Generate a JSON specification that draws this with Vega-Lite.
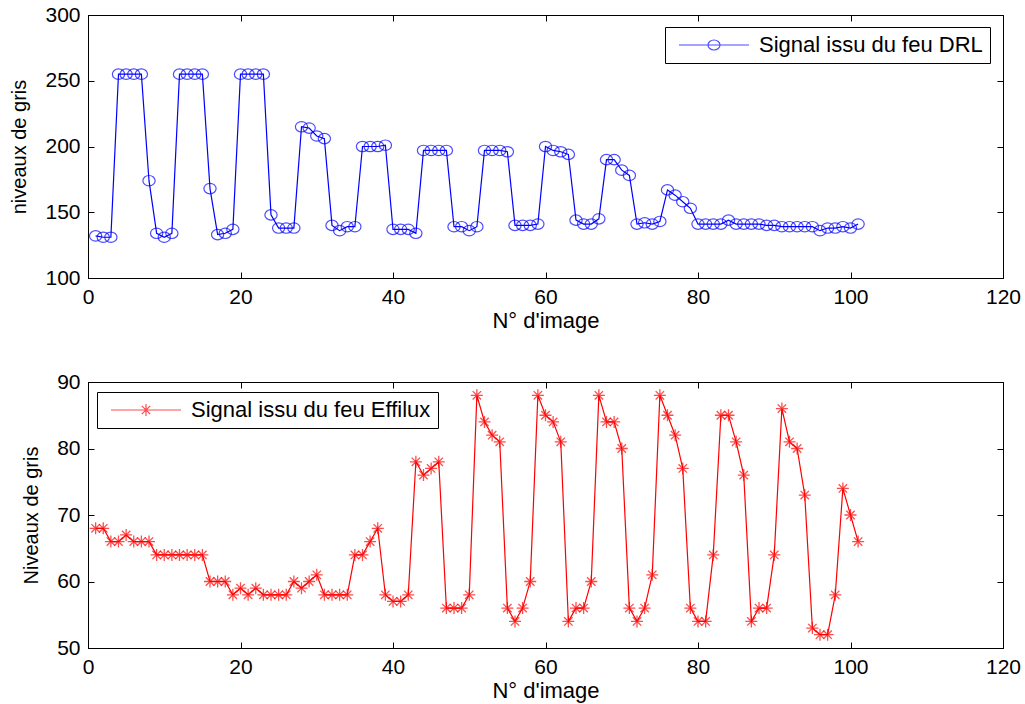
{
  "$schema": "https://vega.github.io/schema/vega-lite/v6.json",
  "background": "white",
  "padding": {"left": 9, "top": 3, "right": 4, "bottom": 2},
  "spacing": 38,
  "config": {
    "font": "Liberation Sans",
    "view": {"stroke": "#000", "strokeWidth": 1},
    "axis": {
      "grid": false,
      "domainColor": "#000",
      "tickColor": "#000",
      "labelColor": "#000",
      "titleColor": "#000",
      "labelFontSize": 21,
      "titleFontSize": 21,
      "titleFontWeight": "normal",
      "tickSize": -6,
      "labelPadding": 14,
      "labelFlush": false
    },
    "legend": {
      "strokeColor": "#000",
      "fillColor": "#fff",
      "padding": 7,
      "labelFontSize": 22,
      "labelColor": "#000",
      "labelLimit": 0,
      "symbolSize": 400,
      "labelOffset": 65,
      "cornerRadius": 0,
      "orient": "none",
      "symbolFillColor": "transparent",
      "symbolStrokeWidth": 1.2
    }
  },
  "datasets": {
    "drl": [
      {"n":1,"v":132},{"n":2,"v":131},{"n":3,"v":131},{"n":4,"v":255},{"n":5,"v":255},{"n":6,"v":255},{"n":7,"v":255},{"n":8,"v":174},{"n":9,"v":134},{"n":10,"v":131},
      {"n":11,"v":134},{"n":12,"v":255},{"n":13,"v":255},{"n":14,"v":255},{"n":15,"v":255},{"n":16,"v":168},{"n":17,"v":133},{"n":18,"v":134},{"n":19,"v":137},{"n":20,"v":255},
      {"n":21,"v":255},{"n":22,"v":255},{"n":23,"v":255},{"n":24,"v":148},{"n":25,"v":138},{"n":26,"v":138},{"n":27,"v":138},{"n":28,"v":215},{"n":29,"v":214},{"n":30,"v":208},
      {"n":31,"v":206},{"n":32,"v":140},{"n":33,"v":136},{"n":34,"v":139},{"n":35,"v":139},{"n":36,"v":200},{"n":37,"v":200},{"n":38,"v":200},{"n":39,"v":201},{"n":40,"v":137},
      {"n":41,"v":137},{"n":42,"v":137},{"n":43,"v":134},{"n":44,"v":197},{"n":45,"v":197},{"n":46,"v":197},{"n":47,"v":197},{"n":48,"v":139},{"n":49,"v":139},{"n":50,"v":136},
      {"n":51,"v":139},{"n":52,"v":197},{"n":53,"v":197},{"n":54,"v":197},{"n":55,"v":196},{"n":56,"v":140},{"n":57,"v":140},{"n":58,"v":140},{"n":59,"v":141},{"n":60,"v":200},
      {"n":61,"v":197},{"n":62,"v":196},{"n":63,"v":194},{"n":64,"v":144},{"n":65,"v":141},{"n":66,"v":141},{"n":67,"v":145},{"n":68,"v":190},{"n":69,"v":190},{"n":70,"v":182},
      {"n":71,"v":178},{"n":72,"v":141},{"n":73,"v":142},{"n":74,"v":141},{"n":75,"v":143},{"n":76,"v":167},{"n":77,"v":163},{"n":78,"v":158},{"n":79,"v":153},{"n":80,"v":141},
      {"n":81,"v":141},{"n":82,"v":141},{"n":83,"v":141},{"n":84,"v":144},{"n":85,"v":141},{"n":86,"v":141},{"n":87,"v":141},{"n":88,"v":141},{"n":89,"v":140},{"n":90,"v":140},
      {"n":91,"v":139},{"n":92,"v":139},{"n":93,"v":139},{"n":94,"v":139},{"n":95,"v":139},{"n":96,"v":136},{"n":97,"v":138},{"n":98,"v":138},{"n":99,"v":139},{"n":100,"v":138},
      {"n":101,"v":141}
    ],
    "eff": [
      {"n":1,"v":68},{"n":2,"v":68},{"n":3,"v":66},{"n":4,"v":66},{"n":5,"v":67},{"n":6,"v":66},{"n":7,"v":66},{"n":8,"v":66},{"n":9,"v":64},{"n":10,"v":64},
      {"n":11,"v":64},{"n":12,"v":64},{"n":13,"v":64},{"n":14,"v":64},{"n":15,"v":64},{"n":16,"v":60},{"n":17,"v":60},{"n":18,"v":60},{"n":19,"v":58},{"n":20,"v":59},
      {"n":21,"v":58},{"n":22,"v":59},{"n":23,"v":58},{"n":24,"v":58},{"n":25,"v":58},{"n":26,"v":58},{"n":27,"v":60},{"n":28,"v":59},{"n":29,"v":60},{"n":30,"v":61},
      {"n":31,"v":58},{"n":32,"v":58},{"n":33,"v":58},{"n":34,"v":58},{"n":35,"v":64},{"n":36,"v":64},{"n":37,"v":66},{"n":38,"v":68},{"n":39,"v":58},{"n":40,"v":57},
      {"n":41,"v":57},{"n":42,"v":58},{"n":43,"v":78},{"n":44,"v":76},{"n":45,"v":77},{"n":46,"v":78},{"n":47,"v":56},{"n":48,"v":56},{"n":49,"v":56},{"n":50,"v":58},
      {"n":51,"v":88},{"n":52,"v":84},{"n":53,"v":82},{"n":54,"v":81},{"n":55,"v":56},{"n":56,"v":54},{"n":57,"v":56},{"n":58,"v":60},{"n":59,"v":88},{"n":60,"v":85},
      {"n":61,"v":84},{"n":62,"v":81},{"n":63,"v":54},{"n":64,"v":56},{"n":65,"v":56},{"n":66,"v":60},{"n":67,"v":88},{"n":68,"v":84},{"n":69,"v":84},{"n":70,"v":80},
      {"n":71,"v":56},{"n":72,"v":54},{"n":73,"v":56},{"n":74,"v":61},{"n":75,"v":88},{"n":76,"v":85},{"n":77,"v":82},{"n":78,"v":77},{"n":79,"v":56},{"n":80,"v":54},
      {"n":81,"v":54},{"n":82,"v":64},{"n":83,"v":85},{"n":84,"v":85},{"n":85,"v":81},{"n":86,"v":76},{"n":87,"v":54},{"n":88,"v":56},{"n":89,"v":56},{"n":90,"v":64},
      {"n":91,"v":86},{"n":92,"v":81},{"n":93,"v":80},{"n":94,"v":73},{"n":95,"v":53},{"n":96,"v":52},{"n":97,"v":52},{"n":98,"v":58},{"n":99,"v":74},{"n":100,"v":70},
      {"n":101,"v":66}
    ]
  },
  "vconcat": [
    {
      "width": 915,
      "height": 263,
      "data": {"name": "drl"},
      "layer": [
        {
          "mark": {"type": "line", "strokeWidth": 1.2},
          "encoding": {
            "x": {"field": "n", "type": "quantitative", "scale": {"domain": [0, 120], "nice": false},
                  "axis": {"orient": "bottom", "values": [0, 20, 40, 60, 80, 100, 120], "title": "N° d'image", "titlePadding": 3, "titleFontSize": 22}},
            "y": {"field": "v", "type": "quantitative", "scale": {"domain": [100, 300], "nice": false, "zero": false},
                  "axis": {"orient": "left", "values": [100, 150, 200, 250, 300], "title": "niveaux de gris", "titlePadding": 15, "titleFontSize": 20}},
            "color": {"datum": "Signal issu du feu DRL", "scale": {"domain": ["Signal issu du feu DRL"], "range": ["#0000ff"]},
                      "legend": {"title": null, "legendX": 577, "legendY": 12, "symbolStrokeColor": "#0000ff",
                                 "symbolType": "M-0.4,0H6.6M2.5,0A0.6,0.5 0 1,0 3.7,0A0.6,0.5 0 1,0 2.5,0"}}
          }
        },
        {
          "mark": {"type": "point", "shape": "M-1,0A1,0.85 0 1,0 1,0A1,0.85 0 1,0 -1,0Z", "size": 150, "filled": false, "strokeWidth": 1.2},
          "encoding": {
            "x": {"field": "n", "type": "quantitative", "scale": {"domain": [0, 120], "nice": false},
                  "axis": {"orient": "top", "values": [0, 20, 40, 60, 80, 100, 120], "labels": false, "title": null, "domain": false}},
            "y": {"field": "v", "type": "quantitative", "scale": {"domain": [100, 300], "nice": false, "zero": false},
                  "axis": {"orient": "right", "values": [100, 150, 200, 250, 300], "labels": false, "title": null, "domain": false}},
            "color": {"datum": "Signal issu du feu DRL"}
          }
        }
      ],
      "resolve": {"axis": {"x": "independent", "y": "independent"}}
    },
    {
      "width": 915,
      "height": 266,
      "data": {"name": "eff"},
      "layer": [
        {
          "mark": {"type": "line", "strokeWidth": 1.2},
          "encoding": {
            "x": {"field": "n", "type": "quantitative", "scale": {"domain": [0, 120], "nice": false},
                  "axis": {"orient": "bottom", "values": [0, 20, 40, 60, 80, 100, 120], "title": "N° d'image", "titlePadding": 3, "titleFontSize": 22}},
            "y": {"field": "v", "type": "quantitative", "scale": {"domain": [50, 90], "nice": false, "zero": false},
                  "axis": {"orient": "left", "values": [50, 60, 70, 80, 90], "title": "Niveaux de gris", "titlePadding": 15, "titleFontSize": 20}},
            "color": {"datum": "Signal issu du feu Effilux", "scale": {"domain": ["Signal issu du feu Effilux"], "range": ["#ff0000"]},
                      "legend": {"title": null, "legendX": 9, "legendY": 10, "symbolStrokeColor": "#ff0000",
                                 "symbolType": "M-0.4,0H6.6M3.1,-0.6V0.6M2.68,-0.42L3.52,0.42M2.68,0.42L3.52,-0.42"}}
          }
        },
        {
          "mark": {"type": "point", "shape": "M-1,0H1M0,-1V1M-0.7,-0.7L0.7,0.7M-0.7,0.7L0.7,-0.7", "size": 144, "filled": false, "strokeWidth": 1.3},
          "encoding": {
            "x": {"field": "n", "type": "quantitative", "scale": {"domain": [0, 120], "nice": false},
                  "axis": {"orient": "top", "values": [0, 20, 40, 60, 80, 100, 120], "labels": false, "title": null, "domain": false}},
            "y": {"field": "v", "type": "quantitative", "scale": {"domain": [50, 90], "nice": false, "zero": false},
                  "axis": {"orient": "right", "values": [50, 60, 70, 80, 90], "labels": false, "title": null, "domain": false}},
            "color": {"datum": "Signal issu du feu Effilux"}
          }
        }
      ],
      "resolve": {"axis": {"x": "independent", "y": "independent"}}
    }
  ],
  "resolve": {"scale": {"color": "independent"}, "legend": {"color": "independent"}}
}
